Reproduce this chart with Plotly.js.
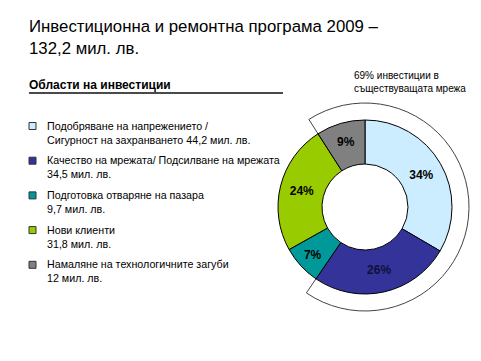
<!DOCTYPE html>
<html><head><meta charset="utf-8">
<script src="https://cdn.plot.ly/plotly-3.0.1.min.js"></script>
<style>html,body{margin:0;padding:0;background:#fff}#chart{width:481px;height:361px}</style>
</head><body><div id="chart"></div>
<script>
const categories = [
  'Подобряване на напрежението /<br>Сигурност на захранването',
  'Качество на мрежата/ Подсилване на мрежата<br>',
  'Подготовка отваряне на пазара<br>',
  'Нови клиенти<br>',
  'Намаляне на технологичните загуби<br>'
];
const amounts = [44.2, 34.5, 9.7, 31.8, 12];
const percentLabels = ['34%', '26%', '7%', '24%', '9%'];
const inExistingNetwork = [true, true, false, false, true];
const ringLabel = '69% инвестиции в<br>съществуващата мрежа';
const titleText = 'Инвестиционна и ремонтна програма 2009 –<br>132,2 мил. лв.';
const sectionTitle = 'Области на инвестиции';

const colors = ['#CCECFF', '#333399', '#009999', '#99CC00', '#808080'];
const labelColors = ['#000000', '#10103a', '#000000', '#000000', '#000000'];
const W = 481, H = 361;
const px = x => x / W;
const py = y => 1 - y / H;
const FONT = 'Liberation Sans, Arial, sans-serif';

const total = amounts.reduce((a, b) => a + b, 0);
const existing = amounts.filter((v, i) => inExistingNetwork[i]).reduce((a, b) => a + b, 0);
const ringValues = [existing, total - existing];
const ringRotation = -(amounts[amounts.length - 1] / total) * 360;

// donut geometry (pixels)
const cx = 365, cy = 207, r = 87, rHole = 43;
const ringR = 104, ringHole = 80;

const ring = {
  type: 'pie', values: ringValues, labels: ['a', 'b'], sort: false,
  direction: 'clockwise', rotation: ringRotation, hole: ringHole / ringR,
  domain: {x: [px(cx - ringR), px(cx + ringR)], y: [py(cy + ringR), py(cy - ringR)]},
  marker: {colors: ['#ffffff', 'rgba(0,0,0,0)'], line: {color: ['#444444', 'rgba(0,0,0,0)'], width: [1, 0]}},
  textinfo: 'none', hoverinfo: 'skip', showlegend: false
};

const donut = {
  type: 'pie', values: amounts, labels: categories, sort: false,
  direction: 'clockwise', rotation: 0, hole: rHole / r,
  domain: {x: [px(cx - r), px(cx + r)], y: [py(cy + r), py(cy - r)]},
  marker: {colors: colors, line: {color: '#000000', width: 1}},
  text: percentLabels, textinfo: 'text', textposition: 'inside',
  insidetextorientation: 'horizontal',
  textfont: {family: FONT, size: 12, color: labelColors, weight: 'bold'},
  hoverinfo: 'skip', showlegend: false
};

const annotations = [];
const shapes = [];
const legendY0 = 126, legendStep = 34.7;
categories.forEach((c, i) => {
  const yc = legendY0 + i * legendStep;
  shapes.push({type: 'rect', xref: 'paper', yref: 'paper',
    x0: px(29), x1: px(36), y0: py(yc + 3.5), y1: py(yc - 3.5),
    fillcolor: colors[i], line: {color: '#333333', width: 1}});
  const parts = c.split('<br>');
  const amountText = String(amounts[i]).replace('.', ',') + ' мил. лв.';
  const line2 = parts[1] ? parts[1] + ' ' + amountText : amountText;
  annotations.push({xref: 'paper', yref: 'paper', x: px(46), y: py(yc - 7.5),
    xanchor: 'left', yanchor: 'top', align: 'left', showarrow: false,
    borderpad: 0,
    text: parts[0] + '<br>' + line2, font: {family: FONT, size: 10.7, color: '#000000'}});
});

annotations.push({xref: 'paper', yref: 'paper', x: px(28), y: py(85), xanchor: 'left', yanchor: 'middle',
  showarrow: false, borderpad: 0, text: '<b>' + sectionTitle + '</b>', font: {family: FONT, size: 12, color: '#000000'}});
annotations.push({xref: 'paper', yref: 'paper', x: px(353), y: py(69), xanchor: 'left', yanchor: 'top', align: 'left',
  showarrow: false, borderpad: 0, text: ringLabel, font: {family: FONT, size: 10, color: '#000000'}});
annotations.push({xref: 'paper', yref: 'paper', x: px(28), y: py(16), xanchor: 'left', yanchor: 'top', align: 'left',
  showarrow: false, borderpad: 0, text: titleText, font: {family: FONT, size: 16.8, color: '#000000'}});

shapes.push({type: 'line', xref: 'paper', yref: 'paper', x0: px(29), x1: px(283), y0: py(93), y1: py(93),
  line: {color: '#4a4a4a', width: 2}});

const layout = {
  width: W, height: H, margin: {l: 0, r: 0, t: 0, b: 0},
  paper_bgcolor: '#ffffff', plot_bgcolor: '#ffffff',
  showlegend: false, annotations: annotations, shapes: shapes,
  font: {family: FONT}
};

Plotly.newPlot('chart', [ring, donut], layout, {displayModeBar: false, staticPlot: true});
</script></body></html>
